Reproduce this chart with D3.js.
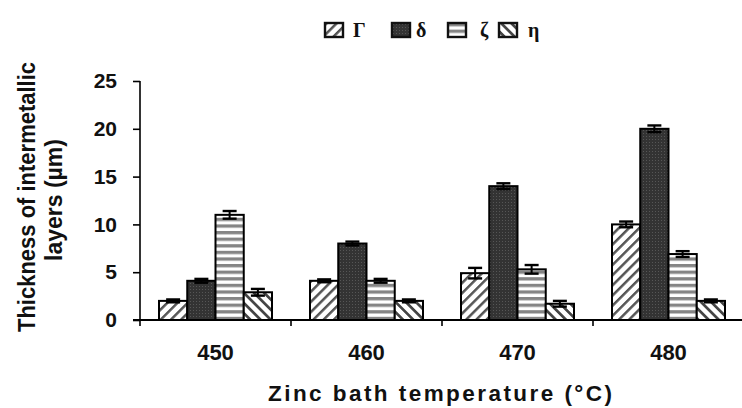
<!DOCTYPE html>
<html>
<head>
<meta charset="utf-8">
<script src="https://cdn.jsdelivr.net/npm/d3@7/dist/d3.min.js"></script>
<style>
  html, body { margin: 0; padding: 0; background: #fff; }
  svg { display: block; }
</style>
</head>
<body>
<svg id="chart" width="742" height="408"></svg>
<script>
// Zinc bath temperatures (°C) and intermetallic layer names
const temperatures = ["450", "460", "470", "480"];
const layers = ["Γ", "δ", "ζ", "η"];

// Mean thickness (µm) per layer, one entry per temperature
const gammaValues = [2.0, 4.1, 4.9, 10.0];
const deltaValues = [4.1, 8.0, 14.0, 20.0];
const zetaValues  = [11.0, 4.1, 5.3, 6.9];
const etaValues   = [2.9, 2.0, 1.7, 2.0];

// Error bar half-widths (µm)
const gammaErrors = [0.15, 0.15, 0.55, 0.3];
const deltaErrors = [0.2, 0.2, 0.3, 0.35];
const zetaErrors  = [0.4, 0.2, 0.45, 0.3];
const etaErrors   = [0.35, 0.15, 0.3, 0.15];

const yTicks = [0, 5, 10, 15, 20, 25];

const seriesValues = [gammaValues, deltaValues, zetaValues, etaValues];
const seriesErrors = [gammaErrors, deltaErrors, zetaErrors, etaErrors];

const rows = [];
temperatures.forEach((t, i) => {
  layers.forEach((l, j) => {
    rows.push({ temp: t, layer: l, idx: j, value: seriesValues[j][i], err: seriesErrors[j][i] });
  });
});

const svg = d3.select("#chart");
const defs = svg.append("defs");

// Fill patterns for the four layers
function stripePattern(id, angle, spacing, stroke, width) {
  const p = defs.append("pattern")
    .attr("id", id)
    .attr("patternUnits", "userSpaceOnUse")
    .attr("width", spacing).attr("height", spacing)
    .attr("patternTransform", `rotate(${angle})`);
  p.append("rect").attr("width", spacing).attr("height", spacing).attr("fill", "#fff");
  p.append("rect").attr("x", 0).attr("y", 0).attr("width", width).attr("height", spacing).attr("fill", stroke);
}
stripePattern("pat-gamma", 45, 7.2, "#555", 2.5);
stripePattern("pat-eta", -45, 7.2, "#454545", 2.7);

const zeta = defs.append("pattern")
  .attr("id", "pat-zeta").attr("patternUnits", "userSpaceOnUse")
  .attr("width", 6).attr("height", 6.6);
zeta.append("rect").attr("width", 6).attr("height", 6.6).attr("fill", "#fff");
zeta.append("rect").attr("y", 0).attr("width", 6).attr("height", 3.3).attr("fill", "#858585");

const delta = defs.append("pattern")
  .attr("id", "pat-delta").attr("patternUnits", "userSpaceOnUse")
  .attr("width", 3).attr("height", 3);
delta.append("rect").attr("width", 3).attr("height", 3).attr("fill", "#333");
delta.append("rect").attr("x", 1).attr("y", 1).attr("width", 1).attr("height", 1).attr("fill", "#565656");

const fills = { "Γ": "url(#pat-gamma)", "δ": "url(#pat-delta)", "ζ": "url(#pat-zeta)", "η": "url(#pat-eta)" };

// Scales
const plotLeft = 140, plotRight = 744, plotTop = 81, plotBottom = 320;
const x0 = d3.scaleBand().domain(temperatures).range([plotLeft, plotRight]).paddingInner(0).paddingOuter(0);
const groupSpan = 113;
const x1 = d3.scaleBand().domain(layers)
  .range([(x0.bandwidth() - groupSpan) / 2, (x0.bandwidth() + groupSpan) / 2]).padding(0);
const y = d3.scaleLinear().domain([0, 25]).range([plotBottom, plotTop]);

// Bars
const g = svg.append("g");
g.selectAll("rect.bar").data(rows).join("rect")
  .attr("class", "bar")
  .attr("x", d => x0(d.temp) + x1(d.layer))
  .attr("y", d => y(d.value))
  .attr("width", x1.bandwidth())
  .attr("height", d => y(0) - y(d.value))
  .attr("fill", d => fills[d.layer])
  .attr("stroke", "#000")
  .attr("stroke-width", 2);

// Error bars
const eb = g.selectAll("g.err").data(rows).join("g").attr("class", "err")
  .attr("transform", d => `translate(${x0(d.temp) + x1(d.layer) + x1.bandwidth() / 2},0)`);
eb.append("line")
  .attr("y1", d => y(d.value + d.err)).attr("y2", d => y(d.value - d.err))
  .attr("stroke", "#000").attr("stroke-width", 2);
eb.append("line")
  .attr("x1", -7).attr("x2", 7)
  .attr("y1", d => y(d.value + d.err)).attr("y2", d => y(d.value + d.err))
  .attr("stroke", "#000").attr("stroke-width", 2.4);
eb.append("line")
  .attr("x1", -7).attr("x2", 7)
  .attr("y1", d => y(d.value - d.err)).attr("y2", d => y(d.value - d.err))
  .attr("stroke", "#000").attr("stroke-width", 2.4);

// Y axis
const yAxis = svg.append("g").attr("transform", `translate(${plotLeft},0)`)
  .call(d3.axisLeft(y).tickValues(yTicks).tickSize(7).tickPadding(16).tickFormat(d3.format("d")));
yAxis.select(".domain").attr("stroke", "#000").attr("stroke-width", 1.6).attr("d", `M0,${plotTop}V${plotBottom + 6}`);
yAxis.selectAll(".tick line").attr("stroke", "#000").attr("stroke-width", 1.6);
yAxis.selectAll(".tick text")
  .attr("font-family", "'Liberation Sans', Arial, sans-serif")
  .attr("font-weight", "bold").attr("font-size", 21).attr("fill", "#111");

// X axis line with ticks on the group boundaries
svg.append("line")
  .attr("x1", plotLeft - 7).attr("x2", 742)
  .attr("y1", y(0)).attr("y2", y(0))
  .attr("stroke", "#000").attr("stroke-width", 1.8);
svg.selectAll("line.xtick").data(temperatures.slice(1)).join("line")
  .attr("class", "xtick")
  .attr("x1", d => x0(d)).attr("x2", d => x0(d))
  .attr("y1", y(0)).attr("y2", y(0) + 6)
  .attr("stroke", "#000").attr("stroke-width", 1.6);

const xAxis = svg.append("g").attr("transform", `translate(0,${y(0)})`)
  .call(d3.axisBottom(x0).tickSize(0).tickPadding(24));
xAxis.select(".domain").remove();
xAxis.selectAll(".tick text")
  .attr("font-family", "'Liberation Sans', Arial, sans-serif")
  .attr("font-weight", "bold").attr("font-size", 22).attr("fill", "#111");

// Axis titles
svg.append("text")
  .attr("x", 440).attr("y", 401)
  .attr("text-anchor", "middle")
  .attr("font-family", "'Liberation Sans', Arial, sans-serif")
  .attr("font-weight", "bold").attr("font-size", 22.5).attr("fill", "#111")
  .attr("textLength", 344).attr("lengthAdjust", "spacing")
  .text("Zinc bath temperature (°C)");

const yTitle = svg.append("g").attr("transform", "rotate(-90)");
yTitle.append("text")
  .attr("x", -197).attr("y", 35)
  .attr("text-anchor", "middle")
  .attr("font-family", "'Liberation Sans Narrow', 'Liberation Sans', Arial, sans-serif")
  .attr("font-weight", "bold").attr("font-size", 23).attr("fill", "#111")
  .attr("textLength", 270).attr("lengthAdjust", "spacingAndGlyphs")
  .text("Thickness of intermetallic");
yTitle.append("text")
  .attr("x", -200).attr("y", 62)
  .attr("text-anchor", "middle")
  .attr("font-family", "'Liberation Sans Narrow', 'Liberation Sans', Arial, sans-serif")
  .attr("font-weight", "bold").attr("font-size", 23).attr("fill", "#111")
  .attr("textLength", 122).attr("lengthAdjust", "spacingAndGlyphs")
  .text("layers (µm)");

// Legend
const legendX = [325, 392, 448, 499];
const legend = svg.append("g");
const li = legend.selectAll("g").data(layers).join("g")
  .attr("transform", (d, i) => `translate(${legendX[i]},23)`);
li.append("rect")
  .attr("width", 18).attr("height", 14)
  .attr("fill", d => fills[d])
  .attr("stroke", "#111").attr("stroke-width", 2.4);
li.append("text")
  .attr("x", (d, i) => [28, 24, 32, 29][i]).attr("y", 14)
  .attr("font-family", "'Liberation Serif', 'Times New Roman', serif")
  .attr("font-weight", "bold").attr("font-size", 20).attr("fill", "#111")
  .text(d => d);
</script>
</body>
</html>
